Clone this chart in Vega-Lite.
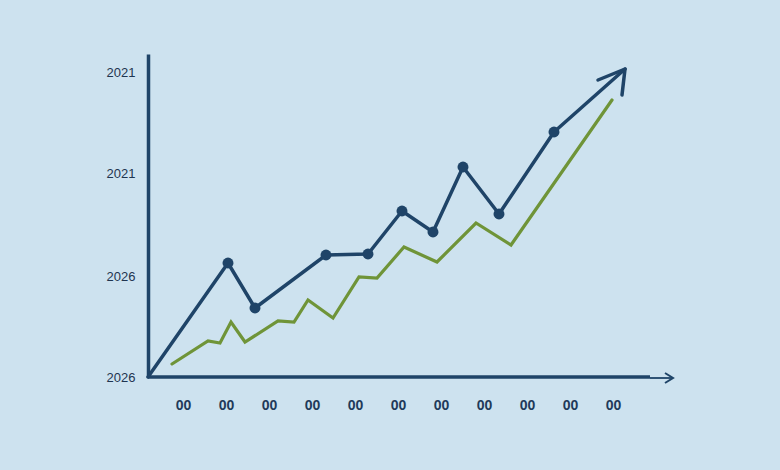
{
  "$schema": "https://vega.github.io/schema/vega-lite/v6.json",
  "width": 522,
  "height": 323,
  "autosize": {"type": "none"},
  "padding": {"left": 148, "top": 54, "right": 110, "bottom": 93},
  "background": "#cde2ef",
  "config": {"view": {"stroke": null}, "font": "Liberation Sans"},
  "datasets": {
    "blue": [
      {"x": 0, "y": 0}, {"x": 0.80, "y": 1.14}, {"x": 1.07, "y": 0.69}, {"x": 1.78, "y": 1.22},
      {"x": 2.20, "y": 1.23}, {"x": 2.54, "y": 1.66}, {"x": 2.85, "y": 1.45}, {"x": 3.15, "y": 2.10},
      {"x": 3.51, "y": 1.63}, {"x": 4.06, "y": 2.45}, {"x": 4.77, "y": 3.08}
    ],
    "dots": [
      {"x": 0.80, "y": 1.14}, {"x": 1.07, "y": 0.69}, {"x": 1.78, "y": 1.22},
      {"x": 2.20, "y": 1.23}, {"x": 2.54, "y": 1.66}, {"x": 2.85, "y": 1.45}, {"x": 3.15, "y": 2.10},
      {"x": 3.51, "y": 1.63}, {"x": 4.06, "y": 2.45}
    ],
    "green": [
      {"x": 0.24, "y": 0.13}, {"x": 0.60, "y": 0.36}, {"x": 0.72, "y": 0.34}, {"x": 0.83, "y": 0.55},
      {"x": 0.97, "y": 0.35}, {"x": 1.30, "y": 0.56}, {"x": 1.46, "y": 0.55}, {"x": 1.60, "y": 0.77},
      {"x": 1.85, "y": 0.59}, {"x": 2.11, "y": 1.00}, {"x": 2.29, "y": 0.99}, {"x": 2.56, "y": 1.30},
      {"x": 2.89, "y": 1.15}, {"x": 3.28, "y": 1.54}, {"x": 3.63, "y": 1.32}, {"x": 4.64, "y": 2.77}
    ],
    "arrow": [
      {"x": 4.50, "y": 2.97, "o": 0}, {"x": 4.77, "y": 3.08, "o": 1}, {"x": 4.74, "y": 2.82, "o": 2}
    ],
    "axisx": [
      {"x": 0, "y": 0, "o": 0}, {"x": 5.02, "y": 0, "o": 1}
    ],
    "axisxthin": [
      {"x": 5.02, "y": -0.01, "o": 0}, {"x": 5.25, "y": -0.01, "o": 1}
    ],
    "xchev": [
      {"x": 5.17, "y": 0.04, "o": 0}, {"x": 5.25, "y": -0.01, "o": 1}, {"x": 5.17, "y": -0.06, "o": 2}
    ]
  },
  "layer": [
    {
      "data": {"name": "axisx"},
      "mark": {"type": "line", "color": "#1f4468", "strokeWidth": 3.5, "clip": false},
      "encoding": {
        "x": {
          "field": "x", "type": "quantitative", "scale": {"domain": [0, 5.22], "nice": false, "zero": false},
          "axis": {
            "values": [0.35, 0.78, 1.21, 1.64, 2.07, 2.50, 2.93, 3.36, 3.79, 4.22, 4.65],
            "labelExpr": "'00'", "domain": false, "ticks": false, "grid": false, "title": null,
            "labelPadding": 21, "labelFontSize": 14, "labelColor": "#1f3a5a", "labelFont": "Liberation Sans", "labelFontWeight": "bold"
          }
        },
        "y": {
          "field": "y", "type": "quantitative", "scale": {"domain": [0, 3.23], "nice": false, "zero": false},
          "axis": {
            "values": [0, 1.01, 2.04, 3.05],
            "labelExpr": "datum.value < 1.5 ? '2026' : '2021'",
            "domain": true, "domainColor": "#1f4468", "domainWidth": 3.5,
            "ticks": false, "grid": false, "title": null,
            "labelPadding": 13, "labelFontSize": 13, "labelColor": "#1f3550"
          }
        },
        "order": {"field": "o"}
      }
    },
    {
      "data": {"name": "axisxthin"},
      "mark": {"type": "line", "color": "#1f4468", "strokeWidth": 1.8, "clip": false},
      "encoding": {"x": {"field": "x", "type": "quantitative"}, "y": {"field": "y", "type": "quantitative"}, "order": {"field": "o"}}
    },
    {
      "data": {"name": "xchev"},
      "mark": {"type": "line", "color": "#1f4468", "strokeWidth": 2, "clip": false},
      "encoding": {"x": {"field": "x", "type": "quantitative"}, "y": {"field": "y", "type": "quantitative"}, "order": {"field": "o"}}
    },
    {
      "data": {"name": "green"},
      "mark": {"type": "line", "color": "#6f9438", "strokeWidth": 3.2, "strokeCap": "round"},
      "encoding": {"x": {"field": "x", "type": "quantitative"}, "y": {"field": "y", "type": "quantitative"}}
    },
    {
      "data": {"name": "blue"},
      "mark": {"type": "line", "color": "#1f4468", "strokeWidth": 3.5, "strokeCap": "round", "strokeJoin": "round"},
      "encoding": {"x": {"field": "x", "type": "quantitative"}, "y": {"field": "y", "type": "quantitative"}}
    },
    {
      "data": {"name": "arrow"},
      "mark": {"type": "line", "color": "#1f4468", "strokeWidth": 3.5, "strokeCap": "round", "strokeJoin": "round", "clip": false},
      "encoding": {"x": {"field": "x", "type": "quantitative"}, "y": {"field": "y", "type": "quantitative"}, "order": {"field": "o"}}
    },
    {
      "data": {"name": "dots"},
      "mark": {"type": "point", "filled": true, "color": "#1f4468", "size": 120, "opacity": 1},
      "encoding": {"x": {"field": "x", "type": "quantitative"}, "y": {"field": "y", "type": "quantitative"}}
    }
  ]
}
